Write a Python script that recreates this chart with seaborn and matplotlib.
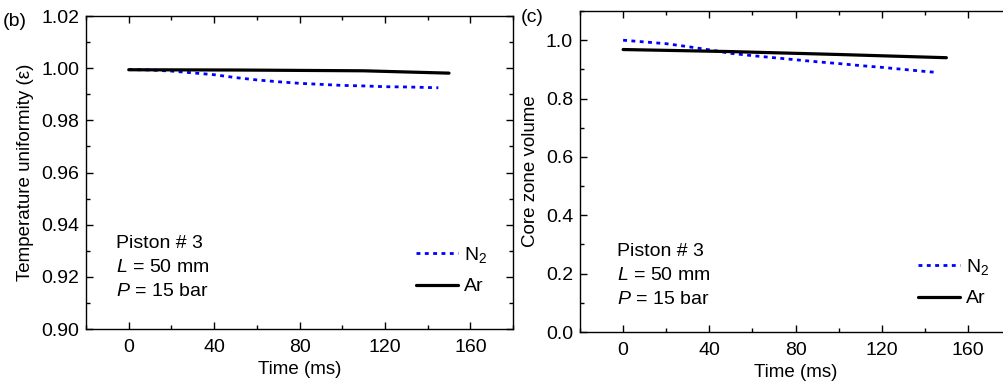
import matplotlib
matplotlib.use("Agg")
import matplotlib.pyplot as plt
import seaborn as sns
import pandas as pd
from matplotlib.ticker import MultipleLocator
from matplotlib.lines import Line2D

# ---------------- data ----------------
time_b_n2 = [0, 10, 20, 30, 40, 50, 60, 70, 80, 90, 100, 110, 120, 130, 140, 145]
uniformity_n2 = [0.9995, 0.9993, 0.9989, 0.9982, 0.9975, 0.9964, 0.9955, 0.9948,
                 0.9942, 0.9938, 0.9934, 0.9932, 0.9929, 0.9928, 0.9926, 0.9925]
time_b_ar = [0, 50, 110, 150]
uniformity_ar = [0.9994, 0.9993, 0.9990, 0.9981]

time_c_n2 = [0, 10, 20, 30, 40, 50, 60, 70, 80, 90, 100, 110, 120, 130, 140, 145]
core_n2 = [1.000, 0.994, 0.988, 0.978, 0.967, 0.955, 0.947, 0.940,
           0.933, 0.926, 0.920, 0.913, 0.907, 0.900, 0.893, 0.890]
time_c_ar = [0, 50, 100, 150]
core_ar = [0.968, 0.961, 0.951, 0.940]

series_labels = ["N$_2$", "Ar"]
annot_lines = ["Piston # 3", "$\\mathit{L}$ = 50 mm", "$\\mathit{P}$ = 15 bar"]
xticks = [0, 40, 80, 120, 160]

# ---------------- style ----------------
sns.set_style("ticks")
plt.rcParams['font.family'] = ['Liberation Sans', 'DejaVu Sans']
plt.rcParams['mathtext.fontset'] = 'custom'
plt.rcParams['mathtext.rm'] = 'Liberation Sans'
plt.rcParams['mathtext.it'] = 'Liberation Sans:italic'
plt.rcParams['axes.linewidth'] = 1.0
for k in ['text.color', 'axes.labelcolor', 'xtick.color', 'ytick.color', 'axes.edgecolor']:
    plt.rcParams[k] = 'black'

FS = 14
n2_style = dict(color="#0000ff", linewidth=2.0, linestyle=(0, (1.4, 1.6)))
ar_style = dict(color="black", linewidth=2.3, linestyle="-")

fig = plt.figure(figsize=(10.04, 3.88), dpi=100)
ax_b = fig.add_axes([0.0857, 0.152, 0.4253, 0.8067])
ax_c = fig.add_axes([0.5777, 0.1443, 0.4293, 0.8273])

def draw(ax, t_n2, y_n2, t_ar, y_ar):
    df1 = pd.DataFrame({"t": t_n2, "y": y_n2})
    df2 = pd.DataFrame({"t": t_ar, "y": y_ar})
    sns.lineplot(data=df1, x="t", y="y", ax=ax, **n2_style)
    sns.lineplot(data=df2, x="t", y="y", ax=ax, **ar_style)
    for sp in ax.spines.values():
        sp.set_visible(True)
        sp.set_color("black")
        sp.set_linewidth(1.0)
    ax.set_xlim(-20, 180)
    ax.set_xticks(xticks)
    ax.xaxis.set_minor_locator(MultipleLocator(20))
    ax.tick_params(which="both", direction="in", top=True, right=True,
                   labelsize=FS, colors="black", width=1.0)
    ax.tick_params(which="major", length=5, pad=5)
    ax.tick_params(which="minor", length=3)
    ax.tick_params(axis="x", which="major", pad=7)
    ax.set_xlabel("Time (ms)", fontsize=13.5, labelpad=4)

draw(ax_b, time_b_n2, uniformity_n2, time_b_ar, uniformity_ar)
ax_b.set_ylim(0.90, 1.02)
ax_b.set_yticks([0.90, 0.92, 0.94, 0.96, 0.98, 1.00, 1.02])
ax_b.set_yticklabels(["0.90", "0.92", "0.94", "0.96", "0.98", "1.00", "1.02"])
ax_b.yaxis.set_minor_locator(MultipleLocator(0.01))
ax_b.set_ylabel("Temperature uniformity (ε)", fontsize=13.5, labelpad=5)

draw(ax_c, time_c_n2, core_n2, time_c_ar, core_ar)
ax_c.set_ylim(0.0, 1.1)
ax_c.set_yticks([0.0, 0.2, 0.4, 0.6, 0.8, 1.0])
ax_c.set_yticklabels(["0.0", "0.2", "0.4", "0.6", "0.8", "1.0"])
ax_c.yaxis.set_minor_locator(MultipleLocator(0.1))
ax_c.set_ylabel("Core zone volume", fontsize=13.5, labelpad=5)

# annotations
for ax, (x0, y0) in [(ax_b, (116, 243)), (ax_c, (617, 252))]:
    for i, line in enumerate(annot_lines):
        fig.text(x0 / 1004, 1 - (y0 + i * 24) / 388, line, fontsize=FS,
                 ha="left", va="center")

# legends
handles = [Line2D([], [], **n2_style), Line2D([], [], **ar_style)]
for ax, (lx, ly) in [(ax_b, (402, 231)), (ax_c, (904, 243))]:
    leg = ax.legend(handles, series_labels, loc="upper left",
                    bbox_to_anchor=(lx / 1004, 1 - ly / 388),
                    bbox_transform=fig.transFigure, frameon=False,
                    fontsize=FS, handlelength=2.2, handletextpad=0.3,
                    labelspacing=0.68, borderpad=0.2)

fig.text(3 / 1004, 1 - 21 / 388, "(b)", fontsize=FS, ha="left", va="center")
fig.text(521 / 1004, 1 - 18 / 388, "(c)", fontsize=FS, ha="left", va="center")

fig.savefig("out.png", dpi=100)
